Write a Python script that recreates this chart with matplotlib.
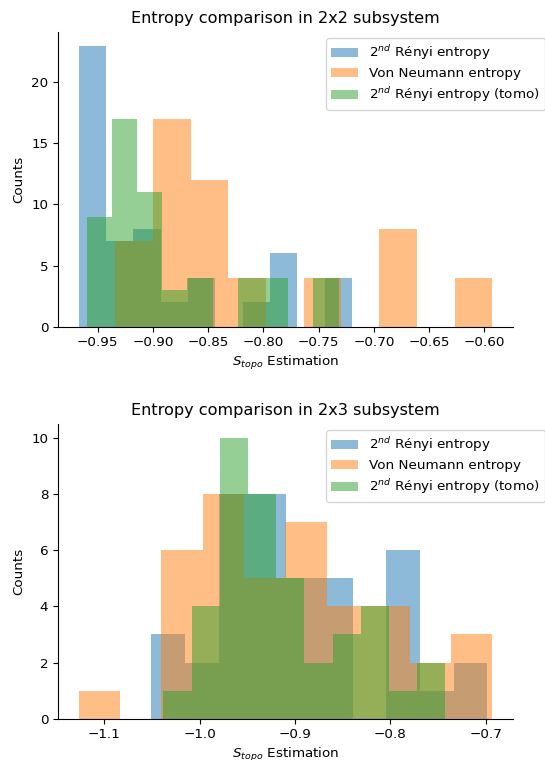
import numpy as np
import matplotlib
matplotlib.use('Agg')
import matplotlib.pyplot as plt

labels = [r'$2^{nd}$ Rényi entropy', 'Von Neumann entropy', r'$2^{nd}$ Rényi entropy (tomo)']
titles = ['Entropy comparison in 2x2 subsystem', 'Entropy comparison in 2x3 subsystem']

# 2x2 subsystem: (min, max) of each sample and counts in the 10 histogram bins
renyi_2x2_range = (-0.9672, -0.7197)
renyi_2x2_counts = [23, 7, 8, 2, 4, 0, 2, 6, 0, 4]
vn_2x2_range = (-0.9341, -0.5928)
vn_2x2_counts = [7, 17, 12, 4, 0, 4, 0, 8, 0, 4]
tomo_2x2_range = (-0.9599, -0.7320)
tomo_2x2_counts = [9, 17, 11, 3, 4, 0, 4, 4, 0, 4]

# 2x3 subsystem
renyi_2x3_range = (-1.0505, -0.6983)
renyi_2x3_counts = [3, 2, 8, 8, 5, 5, 0, 6, 1, 2]
vn_2x3_range = (-1.1269, -0.6929)
vn_2x3_counts = [1, 0, 6, 8, 5, 7, 4, 4, 2, 3]
tomo_2x3_range = (-1.0380, -0.7423)
tomo_2x3_counts = [1, 4, 10, 8, 5, 2, 3, 4, 1, 2]

panels = [
    [(renyi_2x2_range, renyi_2x2_counts), (vn_2x2_range, vn_2x2_counts), (tomo_2x2_range, tomo_2x2_counts)],
    [(renyi_2x3_range, renyi_2x3_counts), (vn_2x3_range, vn_2x3_counts), (tomo_2x3_range, tomo_2x3_counts)],
]

plt.rcParams['font.size'] = 9.7

fig = plt.figure(figsize=(5.45, 7.6), dpi=100)
ax_top = fig.add_axes([0.1064, 0.5701, 0.8349, 0.3884])
ax_bot = fig.add_axes([0.1064, 0.0543, 0.8349, 0.3882])
legend_tops = [1 - 38 / 760, 1 - 430 / 760]

for ax, series, title, ly in zip([ax_top, ax_bot], panels, titles, legend_tops):
    for (lo, hi), counts, lab in zip([s[0] for s in series], [s[1] for s in series], labels):
        edges = np.linspace(lo, hi, len(counts) + 1)
        ax.hist(edges[:-1], bins=edges, weights=counts, alpha=0.5, label=lab)
    ax.set_title(title, fontsize=11.6)
    ax.set_xlabel(r'$S_{topo}$ Estimation', labelpad=3)
    ax.set_ylabel('Counts')
    ax.spines['top'].set_visible(False)
    ax.spines['right'].set_visible(False)
    ax.legend(loc='upper left', bbox_to_anchor=(326 / 545, ly),
              bbox_transform=fig.transFigure, borderaxespad=0, labelspacing=0.38)

fig.savefig('out.png', dpi=100)
